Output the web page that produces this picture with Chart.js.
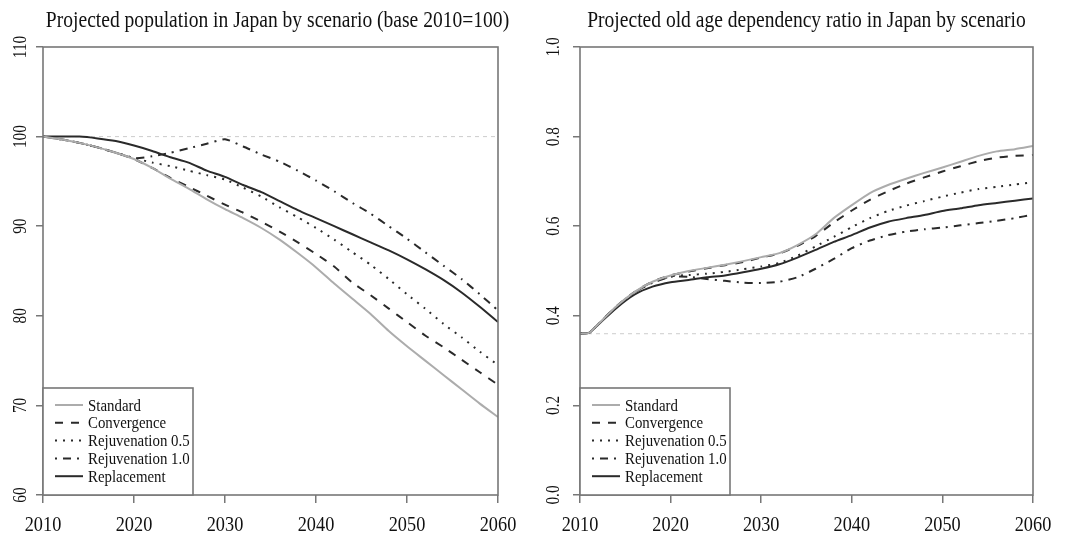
<!DOCTYPE html>
<html>
<head>
<meta charset="utf-8">
<script src="https://cdn.jsdelivr.net/npm/chart.js@4.4.0/dist/chart.umd.min.js"></script>
<style>
  body { margin: 0; background: #fff; }
  #wrap { position: relative; width: 1071px; height: 534px; }
  .box { position: absolute; top: 0; height: 534px; }
</style>
</head>
<body>
<div id="wrap">
  <div class="box" style="left:0;width:535px"><canvas id="popChart"></canvas></div>
  <div class="box" style="left:535px;width:536px"><canvas id="oadrChart"></canvas></div>
</div>
<script>
// data
const years = [2010, 2011, 2012, 2014, 2016, 2018, 2020, 2022, 2024, 2026, 2028, 2030, 2032, 2034,
  2036, 2038, 2040, 2042, 2044, 2046, 2048, 2050, 2052, 2054, 2056, 2058, 2060];
const scenarios = ['Standard', 'Convergence', 'Rejuvenation 0.5', 'Rejuvenation 1.0', 'Replacement'];

// population, base 2010 = 100
const popStandard = [100, 99.85, 99.7, 99.3, 98.8, 98.2, 97.5, 96.5, 95.3, 94.2, 93.0, 91.9, 90.9, 89.8,
  88.5, 87.0, 85.4, 83.6, 81.9, 80.2, 78.3, 76.6, 75.0, 73.4, 71.8, 70.2, 68.7];
const popConvergence = [100, 99.85, 99.7, 99.3, 98.8, 98.2, 97.5, 96.5, 95.4, 94.4, 93.4, 92.4, 91.5, 90.5,
  89.4, 88.2, 86.9, 85.5, 83.7, 82.3, 80.8, 79.3, 77.8, 76.5, 75.1, 73.7, 72.3];
const popRejuv05 = [100, 99.85, 99.7, 99.3, 98.8, 98.2, 97.6, 97.1, 96.7, 96.2, 95.7, 95.2, 94.3, 93.3,
  92.1, 91.0, 89.8, 88.5, 87.1, 85.7, 84.1, 82.4, 80.8, 79.1, 77.6, 76.0, 74.5];
const popRejuv10 = [100, 99.85, 99.7, 99.3, 98.8, 98.2, 97.6, 97.8, 98.2, 98.7, 99.2, 99.7, 98.9, 98.0,
  97.2, 96.2, 95.1, 93.9, 92.6, 91.4, 90.0, 88.6, 87.1, 85.6, 84.1, 82.4, 80.6];
const popReplacement = [100, 100, 100, 100, 99.8, 99.5, 99.0, 98.4, 97.7, 97.1, 96.2, 95.5, 94.6, 93.8,
  92.8, 91.8, 90.9, 90.0, 89.1, 88.2, 87.3, 86.3, 85.2, 84.0, 82.6, 81.0, 79.3];

// old age dependency ratio
const oadrStandard = [0.360, 0.362, 0.381, 0.421, 0.453, 0.476, 0.490, 0.500, 0.507, 0.514, 0.522, 0.531, 0.540, 0.558,
  0.582, 0.618, 0.647, 0.674, 0.692, 0.706, 0.719, 0.731, 0.744, 0.757, 0.767, 0.772, 0.779];
const oadrConvergence = [0.360, 0.362, 0.381, 0.421, 0.453, 0.476, 0.490, 0.499, 0.506, 0.513, 0.520, 0.530, 0.539, 0.556,
  0.578, 0.608, 0.635, 0.659, 0.678, 0.695, 0.709, 0.722, 0.734, 0.745, 0.753, 0.757, 0.759];
const oadrRejuv05 = [0.360, 0.362, 0.381, 0.420, 0.452, 0.474, 0.488, 0.491, 0.494, 0.498, 0.504, 0.510, 0.518, 0.534,
  0.555, 0.576, 0.598, 0.618, 0.634, 0.646, 0.656, 0.666, 0.675, 0.683, 0.688, 0.693, 0.698];
const oadrRejuv10 = [0.360, 0.362, 0.381, 0.420, 0.452, 0.474, 0.487, 0.487, 0.482, 0.478, 0.474, 0.473, 0.476, 0.486,
  0.505, 0.527, 0.551, 0.568, 0.580, 0.588, 0.593, 0.597, 0.602, 0.607, 0.612, 0.618, 0.626];
const oadrReplacement = [0.360, 0.362, 0.380, 0.417, 0.447, 0.465, 0.475, 0.480, 0.486, 0.490, 0.497, 0.505, 0.515, 0.530,
  0.547, 0.565, 0.580, 0.597, 0.610, 0.618, 0.625, 0.634, 0.640, 0.647, 0.652, 0.657, 0.662];

// 2010 reference level
const baseYears = [2010, 2060];
const popBase = [100, 100];
const oadrBase = [0.36, 0.36];

const xTicks = [2010, 2020, 2030, 2040, 2050, 2060];
const xTickLabels = ['2010', '2020', '2030', '2040', '2050', '2060'];
const popTicks = [60, 70, 80, 90, 100, 110];
const popTickLabels = ['60', '70', '80', '90', '100', '110'];
const oadrTicks = [0, 0.2, 0.4, 0.6, 0.8, 1.0];
const oadrTickLabels = ['0.0', '0.2', '0.4', '0.6', '0.8', '1.0'];

const serif = '"Liberation Serif", "DejaVu Serif", serif';
const axisGray = '#777777';
const squeeze = 0.85; // the original face is narrower than Liberation Serif
const lineStyles = [
  { color: '#acacac', dash: [] },
  { color: '#2a2a2a', dash: [8, 8] },
  { color: '#2a2a2a', dash: [2, 6] },
  { color: '#2a2a2a', dash: [2, 6, 8, 6] },
  { color: '#2a2a2a', dash: [] }
];

function pts(xs, ys) {
  return xs.map((x, i) => ({ x: x, y: ys[i] }));
}

function text(ctx, str, x, y, size, align, rotated) {
  ctx.save();
  ctx.translate(x, y);
  if (rotated) ctx.rotate(-Math.PI / 2);
  ctx.scale(squeeze, 1);
  ctx.font = size + 'px ' + serif;
  ctx.textAlign = align;
  ctx.textBaseline = 'middle';
  ctx.fillStyle = '#111';
  ctx.fillText(str, 0, 0);
  ctx.restore();
}

// box, tick labels, title and legend drawn on top of the chart
const decor = {
  id: 'decor',
  afterDraw(chart, args, opts) {
    const ctx = chart.ctx;
    const a = chart.chartArea;
    ctx.save();
    ctx.strokeStyle = axisGray;
    ctx.lineWidth = 1.6;
    ctx.strokeRect(a.left, a.top, a.right - a.left, a.bottom - a.top);

    text(ctx, opts.title, (a.left + a.right) / 2 + opts.titleDx, 21, 23, 'center', false);

    const ys = chart.scales.y;
    opts.ticks.forEach((v, i) => {
      text(ctx, opts.tickLabels[i], opts.labelX, ys.getPixelForValue(v), 18, 'center', true);
    });
    const xs = chart.scales.x;
    xTicks.forEach((v, i) => {
      text(ctx, xTickLabels[i], xs.getPixelForValue(v), 525, 21.5, 'center', false);
    });

    // legend box
    const lx = a.left, ly = a.bottom - 107, lw = 150;
    ctx.fillStyle = '#fff';
    ctx.fillRect(lx, ly, lw, 107);
    ctx.strokeRect(lx, ly, lw, 107);
    chart.data.datasets.slice(0, 5).forEach((ds, i) => {
      const y = ly + 17 + i * 17.8;
      ctx.strokeStyle = ds.borderColor;
      ctx.lineWidth = 2;
      ctx.setLineDash(ds.borderDash);
      ctx.beginPath();
      ctx.moveTo(lx + 12, y);
      ctx.lineTo(lx + 40, y);
      ctx.stroke();
      ctx.setLineDash([]);
      text(ctx, ds.label, lx + 45, y + 1, 17.5, 'left', false);
    });
    ctx.restore();
  }
};

function makeChart(id, series, base, yMin, yMax, yTicks, yTickLabels, title, titleDx, yWidth, padRight, labelX) {
  const datasets = series.map((s, i) => ({
    label: scenarios[i],
    data: pts(years, s),
    borderColor: lineStyles[i].color,
    borderDash: lineStyles[i].dash,
    borderWidth: 2,
    pointRadius: 0,
    tension: 0.2
  }));
  datasets.push({
    label: 'base',
    data: pts(baseYears, base),
    borderColor: '#cccccc',
    borderDash: [4, 4],
    borderWidth: 1,
    pointRadius: 0
  });

  return new Chart(document.getElementById(id), {
    type: 'line',
    data: { datasets: datasets },
    options: {
      responsive: true,
      maintainAspectRatio: false,
      animation: false,
      layout: { padding: { top: 47, right: padRight, left: 0, bottom: 0 } },
      plugins: {
        legend: { display: false },
        tooltip: { enabled: false },
        decor: { title: title, titleDx: titleDx, ticks: yTicks, tickLabels: yTickLabels, labelX: labelX }
      },
      scales: {
        x: {
          type: 'linear',
          min: 2010,
          max: 2060,
          afterBuildTicks: s => { s.ticks = xTicks.map(v => ({ value: v })); },
          afterFit: s => { s.height = 39; },
          border: { display: false },
          grid: { drawOnChartArea: false, drawTicks: true, tickLength: 8, color: axisGray, lineWidth: 1.5 },
          ticks: { display: false }
        },
        y: {
          min: yMin,
          max: yMax,
          afterBuildTicks: s => { s.ticks = yTicks.map(v => ({ value: v })); },
          afterFit: s => { s.width = yWidth; },
          border: { display: false },
          grid: { drawOnChartArea: false, drawTicks: true, tickLength: 7, color: axisGray, lineWidth: 1.5 },
          ticks: { display: false }
        }
      }
    },
    plugins: [decor]
  });
}

makeChart('popChart',
  [popStandard, popConvergence, popRejuv05, popRejuv10, popReplacement], popBase,
  60, 110, popTicks, popTickLabels,
  'Projected population in Japan by scenario (base 2010=100)', 7, 43, 37, 21);

makeChart('oadrChart',
  [oadrStandard, oadrConvergence, oadrRejuv05, oadrRejuv10, oadrReplacement], oadrBase,
  0, 1, oadrTicks, oadrTickLabels,
  'Projected old age dependency ratio in Japan by scenario', 0, 45, 38, 19);
</script>
</body>
</html>
